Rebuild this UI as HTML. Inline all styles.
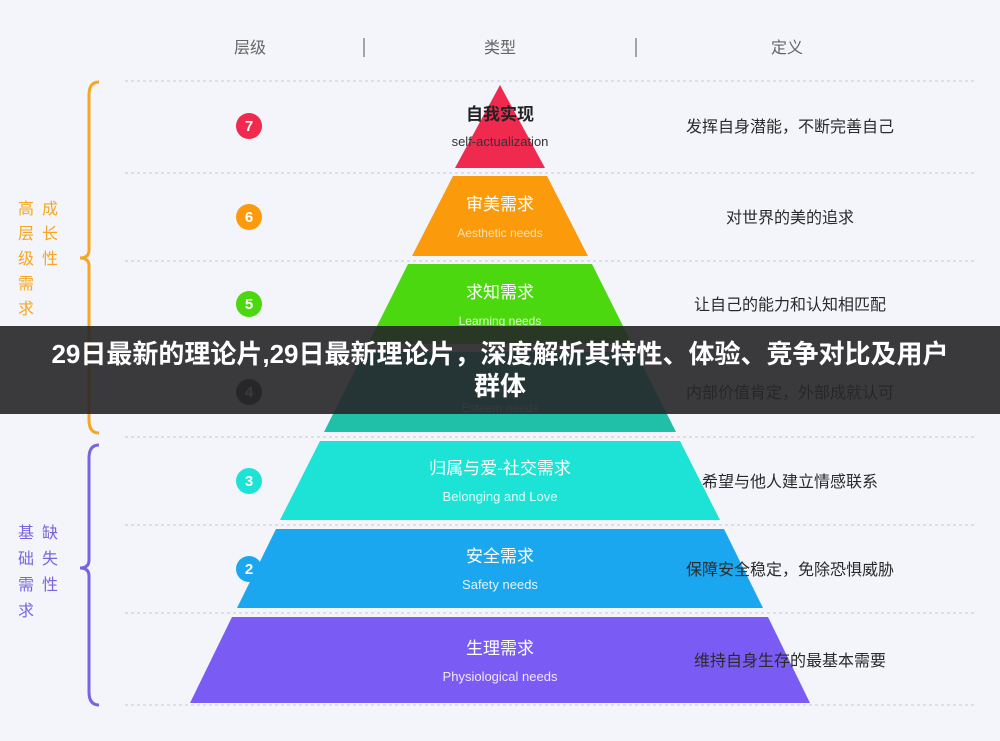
<!DOCTYPE html>
<html><head><meta charset="utf-8"><style>
html,body{margin:0;padding:0;background:#f3f5fb;}
svg{display:block}
.banner{position:absolute;left:0;top:326px;width:1000px;height:88px;background:rgba(38,38,40,0.9);color:#fff;font-family:"Liberation Sans","Noto Sans CJK SC",sans-serif;font-weight:bold;font-size:26px;line-height:32px;text-align:center;box-sizing:border-box;padding:12px 10px 0;}
</style></head><body>
<div style="position:relative;width:1000px;height:741px;overflow:hidden">
<svg width="1000" height="741" viewBox="0 0 1000 741" font-family="Liberation Sans, Noto Sans CJK SC, sans-serif">
<rect width="1000" height="741" fill="#f3f5fb"/>
<g font-size="16" fill="#666" text-anchor="middle">
<text x="250" y="53">层级</text><text x="500" y="53">类型</text><text x="787" y="53">定义</text>
</g>
<line x1="364" y1="38" x2="364" y2="57" stroke="#888" stroke-width="1.5"/>
<line x1="636" y1="38" x2="636" y2="57" stroke="#888" stroke-width="1.5"/>
<g stroke="#c6c9d2" stroke-width="1" stroke-dasharray="3,3">
<line x1="125" y1="81" x2="975" y2="81"/><line x1="125" y1="173" x2="975" y2="173"/>
<line x1="125" y1="261" x2="975" y2="261"/><line x1="125" y1="349" x2="975" y2="349"/>
<line x1="125" y1="437" x2="975" y2="437"/><line x1="125" y1="525" x2="975" y2="525"/>
<line x1="125" y1="613" x2="975" y2="613"/><line x1="125" y1="705" x2="975" y2="705"/>
</g>
<path d="M99,82 Q89,82 89,95 L89,250 Q89,258 80,258 Q89,258 89,266 L89,420 Q89,433 99,433" fill="none" stroke="#f5a623" stroke-width="3"/>
<path d="M99,445 Q89,445 89,458 L89,560 Q89,568 80,568 Q89,568 89,576 L89,692 Q89,705 99,705" fill="none" stroke="#7b63e0" stroke-width="3"/>
<g font-size="16" fill="#f5a623"><text x="18" y="214">高</text><text x="42" y="214">成</text><text x="18" y="239">层</text><text x="42" y="239">长</text><text x="18" y="264">级</text><text x="42" y="264">性</text><text x="18" y="289">需</text><text x="18" y="314">求</text></g>
<g font-size="16" fill="#7b63e0"><text x="18" y="538">基</text><text x="42" y="538">缺</text><text x="18" y="564">础</text><text x="42" y="564">失</text><text x="18" y="590">需</text><text x="42" y="590">性</text><text x="18" y="616">求</text></g>
<polygon points="500,85 545,168 455,168" fill="#f0294f"/>
<polygon points="453,176 547,176 588,256 412,256" fill="#fb9b0c"/>
<polygon points="408,264 592,264 632,344 368,344" fill="#4cd80e"/>
<polygon points="364,352 636,352 676,432 324,432" fill="#20c0a8"/>
<polygon points="320,441 680,441 720,520 280,520" fill="#1de3d6"/>
<polygon points="276,529 724,529 763,608 237,608" fill="#1ba7f0"/>
<polygon points="232,617 768,617 810,703 190,703" fill="#7a5cf5"/>
<g text-anchor="middle">
<text x="500" y="120" font-size="17" fill="#222" font-weight="bold">自我实现</text>
<text x="500" y="146" font-size="13" fill="#333">self-actualization</text>
<text x="500" y="210" font-size="17" fill="#fff">审美需求</text>
<text x="500" y="237" font-size="12" fill="#fde0b0">Aesthetic needs</text>
<text x="500" y="298" font-size="17" fill="#fff">求知需求</text>
<text x="500" y="325" font-size="12" fill="#e0f8d0">Learning needs</text>
<text x="500" y="412" font-size="12" fill="#d0f0ea">Esteem needs</text>
<text x="500" y="474" font-size="17" fill="#fff">归属与爱-社交需求</text>
<text x="500" y="501" font-size="13" fill="#e0fffc">Belonging and Love</text>
<text x="500" y="562" font-size="17" fill="#fff">安全需求</text>
<text x="500" y="589" font-size="13" fill="#e0f4ff">Safety needs</text>
<text x="500" y="654" font-size="17" fill="#fff">生理需求</text>
<text x="500" y="681" font-size="13" fill="#ece8ff">Physiological needs</text>
</g>
<g font-size="15" font-weight="bold" fill="#fff" text-anchor="middle">
<circle cx="249" cy="126" r="13" fill="#f0294f"/><text x="249" y="131">7</text>
<circle cx="249" cy="217" r="13" fill="#fb9b0c"/><text x="249" y="222">6</text>
<circle cx="249" cy="304" r="13" fill="#4cd80e"/><text x="249" y="309">5</text>
<circle cx="249" cy="392" r="13" fill="#333"/><text x="249" y="397">4</text>
<circle cx="249" cy="481" r="13" fill="#1de3d6"/><text x="249" y="486">3</text>
<circle cx="249" cy="569" r="13" fill="#1ba7f0"/><text x="249" y="574">2</text>
</g>
<g font-size="16" fill="#2a2a2a" text-anchor="middle">
<text x="790" y="132">发挥自身潜能，不断完善自己</text>
<text x="790" y="223">对世界的美的追求</text>
<text x="790" y="310">让自己的能力和认知相匹配</text>
<text x="790" y="398">内部价值肯定，外部成就认可</text>
<text x="790" y="487">希望与他人建立情感联系</text>
<text x="790" y="575">保障安全稳定，免除恐惧威胁</text>
<text x="790" y="666">维持自身生存的最基本需要</text>
</g>
</svg>
<div class="banner">29日最新的理论片,29日最新理论片，深度解析其特性、体验、竞争对比及用户<br>群体</div>
</div>
</body></html>
